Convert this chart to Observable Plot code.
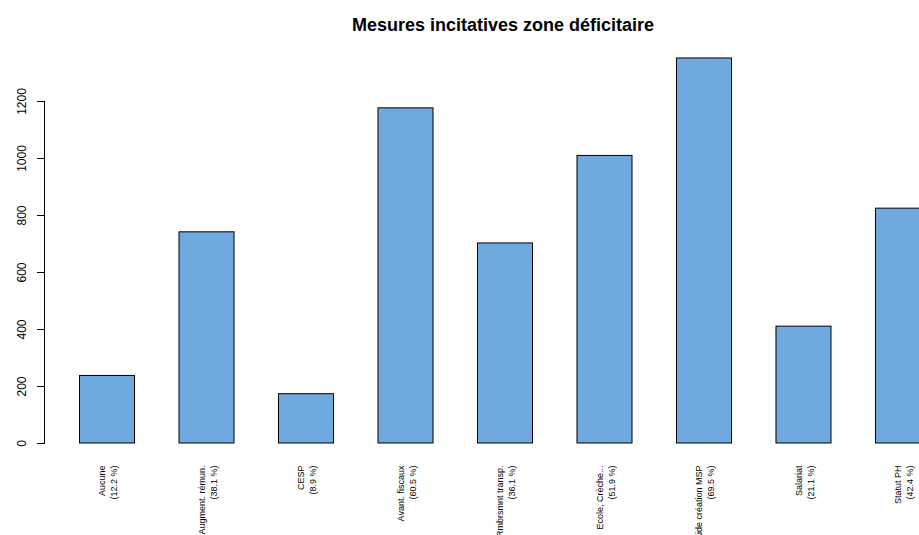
<!DOCTYPE html>
<html>
<head>
<meta charset="utf-8">
<script src="https://cdn.jsdelivr.net/npm/d3@7"></script>
<script src="https://cdn.jsdelivr.net/npm/@observablehq/plot@0.6"></script>
<style>
  html, body { margin: 0; padding: 0; background: #fff; overflow: hidden; }
  #wrap { position: relative; width: 919px; height: 535px; overflow: hidden; }
  #title {
    position: absolute; left: 0; top: 16px; width: 1006px;
    text-align: center; font: bold 18px "Liberation Sans", Arial, sans-serif;
    line-height: 18px; color: #000;
  }
</style>
</head>
<body>
<div id="wrap">
  <div id="title">Mesures incitatives zone déficitaire</div>
</div>
<script>
// Incentive measures cited (counts), with share of respondents
const categories = [
  "Aucune", "Augment. rémun.", "CESP", "Avant. fiscaux", "Rmbrsmnt transp.",
  "Ecole, Crèche...", "Aide création MSP", "Salariat", "Statut PH"
];
const counts = [237, 741, 173, 1176, 702, 1009, 1351, 410, 824];
const percents = ["12.2", "38.1", "8.9", "60.5", "36.1", "51.9", "69.5", "21.1", "42.4"];
const yTicks = [0, 200, 400, 600, 800, 1000, 1200];

const rows = categories.map((c, i) => ({
  cat: c,
  n: counts[i],
  label: `${c}\n(${percents[i]} %)`
}));

const chart = Plot.plot({
  width: 919,
  height: 535,
  marginLeft: 44,
  marginRight: 0,
  marginTop: 101,
  marginBottom: 92,
  style: { fontFamily: "'Liberation Sans', Arial, sans-serif", background: "transparent", overflow: "visible" },
  x: {
    type: "band", domain: categories, range: [79.5, 930.5], round: false,
    paddingInner: 0.447, paddingOuter: 0, axis: null
  },
  y: { domain: [0, 1200], axis: null },
  marks: [
    Plot.barY(rows, { x: "cat", y: "n", fill: "#6FA9E0", stroke: "#000", strokeWidth: 1 }),
    Plot.frame({ anchor: "left", stroke: "#000" }),
    Plot.axisY({ ticks: yTicks, tickSize: 7, tickFormat: () => "", label: null, stroke: "#000", strokeOpacity: 1 }),
    Plot.text(yTicks, {
      y: d => d, text: d => String(d), frameAnchor: "left", dx: -22,
      rotate: -90, textAnchor: "middle", fontSize: 12, fill: "#000"
    }),
    Plot.text(rows, {
      x: "cat", text: "label", frameAnchor: "bottom", dy: 22,
      rotate: -90, textAnchor: "end", lineAnchor: "middle",
      lineHeight: 1.3, fontSize: 9, fill: "#000"
    })
  ]
});

document.getElementById("wrap").appendChild(chart);
</script>
</body>
</html>
